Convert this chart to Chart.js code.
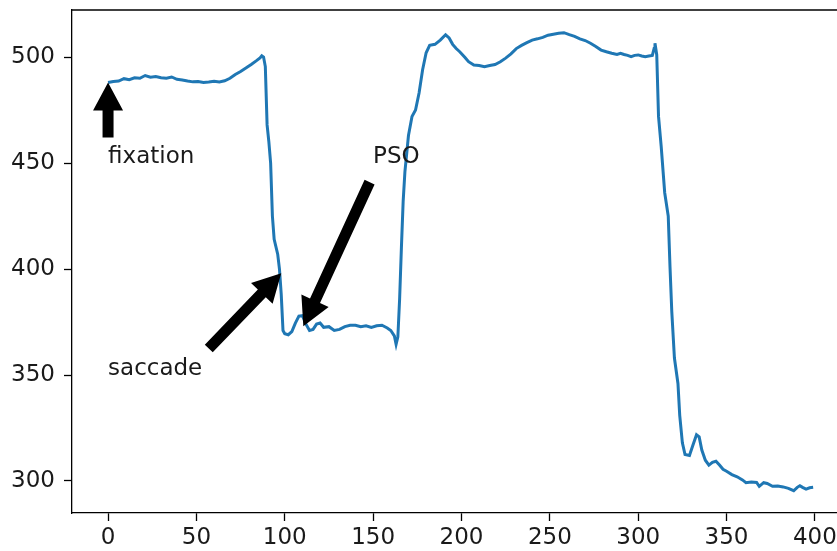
<!DOCTYPE html>
<html>
<head>
<meta charset="utf-8">
<script src="https://cdn.jsdelivr.net/npm/chart.js@4.4.1/dist/chart.umd.min.js"></script>
<style>
  html, body { margin: 0; padding: 0; background: #fff; }
  #wrap { width: 837px; height: 551px; }
</style>
</head>
<body>
<div id="wrap"><canvas id="chart"></canvas></div>
<script>
// gaze position samples
const sampleX = [0, 3, 6, 9, 12, 15, 18, 21, 24, 27, 30, 33, 36, 39, 42, 45, 48, 51, 54, 57,
  60, 63, 66, 69, 72, 75, 78, 81, 84, 86, 87, 88, 89, 90, 91, 92, 93, 94, 96, 97,
  98, 99, 100, 102, 104, 106, 108, 110, 112, 114, 116, 118, 120, 122, 125, 128, 131, 134, 137, 140,
  143, 146, 149, 152, 155, 158, 160, 162, 163, 164, 165, 166, 167, 168, 170, 172, 174, 176, 178, 180,
  182, 185, 188, 191, 193, 195, 197, 199, 202, 204, 207, 210, 213, 216, 219, 222, 225, 228, 231, 234,
  237, 240, 243, 246, 249, 252, 255, 258, 261, 264, 267, 270, 273, 276, 279, 282, 285, 288, 290, 292,
  294, 296, 298, 300, 302, 304, 306, 308, 309, 309.5, 310.5, 311.5, 313, 315, 317, 318, 319, 320.5, 322.5, 323.5,
  325, 326.5, 329, 331, 333, 334.5, 336, 338, 340, 342, 344, 346, 348, 350, 353, 356, 359, 361, 364, 367,
  368.5, 371, 373, 376, 379, 382, 385, 388, 390, 391.5, 393, 395, 397, 399];
const sampleY = [488, 488.5, 488.7, 489.8, 489.3, 490.2, 490, 491.3, 490.5, 490.8, 490.2, 490, 490.6, 489.5, 489.2, 488.7, 488.3, 488.5, 488, 488.2,
  488.6, 488.2, 488.8, 490, 491.8, 493.2, 494.8, 496.5, 498.3, 499.6, 500.6, 500, 495.5, 468, 460, 450, 425, 414, 407, 400,
  388, 371, 369.5, 369, 370.5, 374.5, 377.8, 378, 374, 371, 371.5, 374, 374.5, 372.5, 372.8, 371, 371.5, 372.8, 373.5, 373.5,
  372.8, 373.2, 372.4, 373.2, 373.5, 372.2, 371, 368.5, 364.5, 368, 386, 410, 432, 446, 463, 472, 475, 483, 494, 502,
  505.5, 506, 508, 510.5, 509, 506, 504, 502.5, 499.8, 497.8, 496.2, 496, 495.4, 496, 496.5, 497.8, 499.5, 501.5, 504, 505.5,
  506.8, 508, 508.6, 509.3, 510.3, 510.8, 511.2, 511.5, 510.6, 509.8, 508.6, 507.8, 506.5, 505, 503.3, 502.5, 501.8, 501.2, 501.8, 501.2,
  500.8, 500.2, 500.8, 501, 500.5, 500.2, 500.5, 500.8, 504, 506.5, 501, 472, 458, 436, 425, 401, 380, 358, 346, 331,
  318, 312.5, 312, 317, 321.8, 320.8, 314.6, 309.8, 307.5, 308.8, 309.3, 307.5, 305.5, 304.6, 303, 302, 300.5, 299.2, 299.5, 299.3,
  297.5, 299.2, 298.8, 297.5, 297.6, 297.2, 296.5, 295.4, 297, 297.8, 297, 296.2, 296.8, 297];

const xTicks = [0, 50, 100, 150, 200, 250, 300, 350, 400];
const yTicks = [300, 350, 400, 450, 500];

// annotations: label, where the text sits, where the arrow starts and ends (data units)
const noteLabels = ["fixation", "saccade", "PSO"];
const noteTextX = [0, 0, 150];
const noteTextY = [450, 350, 450];
const arrowFromX = [0, 57, 148];
const arrowFromY = [462, 362.5, 441];
const arrowToX = [0, 98, 110.5];
const arrowToY = [488, 398, 373];

const FONT = "'DejaVu Sans', sans-serif";

function drawArrow(ctx, x0, y0, x1, y1) {
  const shaft = 11, headW = 30, headL = 28;
  const dx = x1 - x0, dy = y1 - y0;
  const len = Math.hypot(dx, dy);
  const ux = dx / len, uy = dy / len;
  const nx = -uy, ny = ux;
  const bx = x1 - ux * headL, by = y1 - uy * headL;
  ctx.beginPath();
  ctx.moveTo(x0 + nx * shaft / 2, y0 + ny * shaft / 2);
  ctx.lineTo(bx + nx * shaft / 2, by + ny * shaft / 2);
  ctx.lineTo(bx + nx * headW / 2, by + ny * headW / 2);
  ctx.lineTo(x1, y1);
  ctx.lineTo(bx - nx * headW / 2, by - ny * headW / 2);
  ctx.lineTo(bx - nx * shaft / 2, by - ny * shaft / 2);
  ctx.lineTo(x0 - nx * shaft / 2, y0 - ny * shaft / 2);
  ctx.closePath();
  ctx.fill();
}

const extras = {
  id: "extras",
  afterDatasetsDraw(chart) {
    const { ctx, chartArea, scales } = chart;
    ctx.save();
    // top spine
    ctx.strokeStyle = "#000";
    ctx.lineWidth = 1.3;
    ctx.beginPath();
    ctx.moveTo(chartArea.left, chartArea.top);
    ctx.lineTo(chartArea.right, chartArea.top);
    ctx.stroke();
    ctx.fillStyle = "#000";
    for (let i = 0; i < noteLabels.length; i++) {
      drawArrow(ctx,
        scales.x.getPixelForValue(arrowFromX[i]), scales.y.getPixelForValue(arrowFromY[i]),
        scales.x.getPixelForValue(arrowToX[i]), scales.y.getPixelForValue(arrowToY[i]));
    }
    ctx.fillStyle = "#1a1a1a";
    ctx.font = "23px " + FONT;
    ctx.textAlign = "left";
    ctx.textBaseline = "alphabetic";
    for (let i = 0; i < noteLabels.length; i++) {
      ctx.fillText(noteLabels[i], scales.x.getPixelForValue(noteTextX[i]), scales.y.getPixelForValue(noteTextY[i]));
    }
    ctx.restore();
  }
};

const ctx = document.getElementById("chart").getContext("2d");
const chart = new Chart(ctx, {
  type: "line",
  data: {
    datasets: [
      {
        data: sampleX.map((x, i) => ({ x: x, y: sampleY[i] })),
        borderColor: "#1f77b4",
        borderWidth: 3,
        pointRadius: 0,
        tension: 0,
        fill: false,
      },
    ],
  },
  options: {
    responsive: true,
    maintainAspectRatio: false,
    animation: false,
    layout: { padding: { top: 10, right: 0, left: 0, bottom: 0 } },
    plugins: { legend: { display: false }, tooltip: { enabled: false } },
    scales: {
      x: {
        type: "linear",
        min: -20.4,
        max: 412.5,
        afterBuildTicks: (s) => { s.ticks = xTicks.map((v) => ({ value: v })); },
        afterFit: (s) => { s.height = 38; s.paddingLeft = 0; s.paddingRight = 0; },
        grid: { drawOnChartArea: false, drawTicks: true, tickLength: 8, tickColor: "#000", tickWidth: 1.3 },
        border: { display: true, color: "#000", width: 1.3 },
        ticks: { color: "#1a1a1a", font: { family: FONT, size: 23 }, padding: 3, maxRotation: 0 },
      },
      y: {
        type: "linear",
        min: 284.9,
        max: 522.2,
        afterBuildTicks: (s) => { s.ticks = yTicks.map((v) => ({ value: v })); },
        afterFit: (s) => { s.width = 72; s.paddingTop = 0; s.paddingBottom = 0; },
        grid: { drawOnChartArea: false, drawTicks: true, tickLength: 8, tickColor: "#000", tickWidth: 1.3 },
        border: { display: true, color: "#000", width: 1.3 },
        ticks: { color: "#1a1a1a", font: { family: FONT, size: 23 }, padding: 9 },
      },
    },
  },
  plugins: [extras],
});
</script>
</body>
</html>
